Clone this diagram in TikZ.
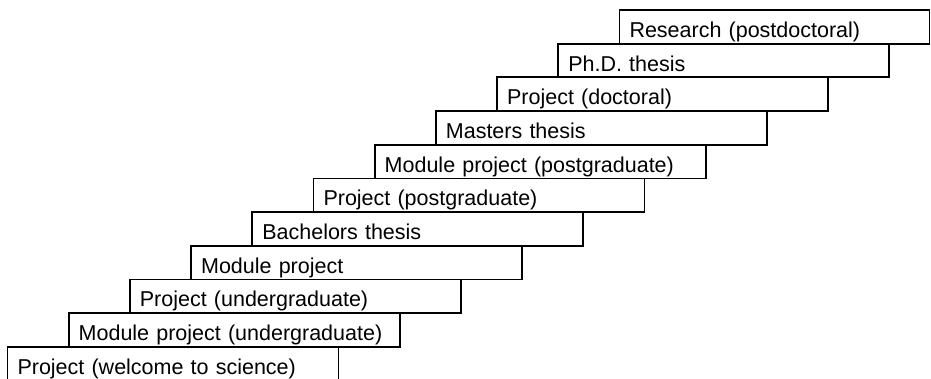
\documentclass[tikz,border=0pt]{standalone}
\usepackage{fontspec}
\setmainfont{Liberation Sans}
\usetikzlibrary{positioning}

\begin{document}
\begin{tikzpicture}[
    x=1pt, y=1pt,
    stair/.style={rectangle, draw=black, fill=white, line width=1.8pt,
                  inner xsep=10pt, inner ysep=0pt, outer sep=0pt,
                  text width=311pt, minimum height=33.7pt,
                  text height=21pt, text depth=0pt,
                  align=left, anchor=south west,
                  font=\fontsize{21.5}{24}\selectfont},
    up/.style={stair, right=61.2pt of #1.north west, anchor=south west}
]
\useasboundingbox (0,0) rectangle (931,379);
\clip (0,0) rectangle (931,379);

%% ── Bottom step ──
\node[stair] (WS) at (7.5,-1.7) {Project (welcome to science)};

%% ── Steps going up ──
\node[up=WS]  (MPU) {Module project (undergraduate)};
\node[up=MPU] (PU)  {Project (undergraduate)};
\node[up=PU]  (MP)  {Module project};
\node[up=MP]  (BT)  {Bachelors thesis};
\node[up=BT]  (PP)  {Project (postgraduate)};
\node[up=PP]  (MPP) {Module project (postgraduate)};
\node[up=MPP] (MT)  {Masters thesis};
\node[up=MT]  (PD)  {Project (doctoral)};
\node[up=PD]  (PHD) {Ph.D. thesis};
\node[up=PHD, text width=290pt] (RP) {Research (postdoctoral)};

\end{tikzpicture}
\end{document}
